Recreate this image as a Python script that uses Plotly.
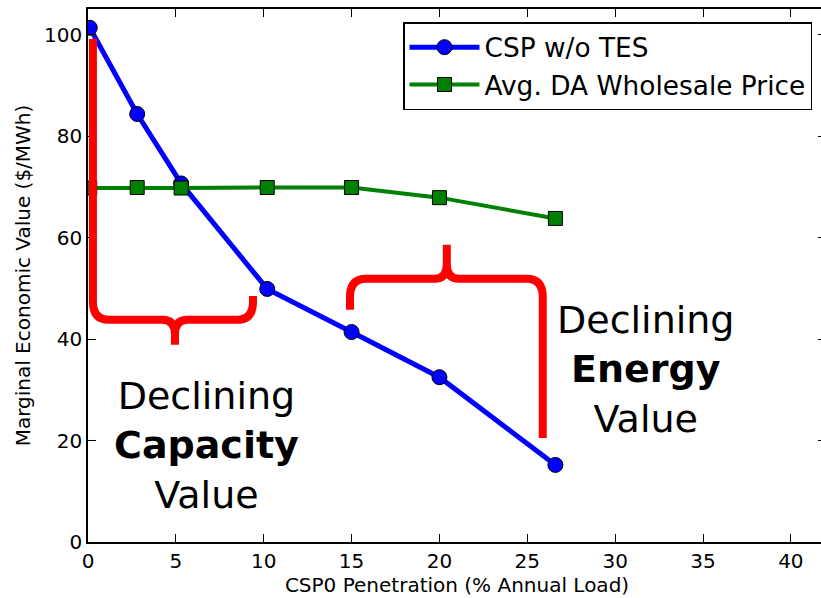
import plotly.graph_objects as go

# ---- data ----
penetration = [0.1, 2.8, 5.3, 10.2, 15.0, 20.0, 26.6]
csp_value = [101.4, 84.4, 70.7, 49.9, 41.4, 32.5, 15.2]
da_price = [69.8, 69.9, 69.8, 69.9, 69.9, 67.9, 63.8]
x_ticks = [0, 5, 10, 15, 20, 25, 30, 35, 40]
y_ticks = [0, 20, 40, 60, 80, 100]

FONT = "DejaVu Sans"

fig = go.Figure()
fig.add_trace(go.Scatter(
    x=penetration, y=csp_value, mode="lines+markers", name="CSP w/o TES",
    line=dict(color="#0000ff", width=5),
    marker=dict(symbol="circle", size=15, color="#0000ff", line=dict(color="black", width=1)),
))
fig.add_trace(go.Scatter(
    x=penetration, y=da_price, mode="lines+markers", name="Avg. DA Wholesale Price",
    line=dict(color="#008000", width=4),
    marker=dict(symbol="square", size=14, color="#008000", line=dict(color="black", width=1)),
))


def brace(x0, x1, yh, yl, yr, xt, yt, rx, ry, tr):
    s = 1 if yl > yh else -1
    st = 1 if yt > yh else -1
    p = f"M {x0},{yl} L {x0},{yh + s*ry} Q {x0},{yh} {x0 + rx},{yh} "
    p += f"L {xt - tr},{yh} Q {xt},{yh} {xt},{yh + st*ry*0.8} L {xt},{yt} "
    p += f"L {xt},{yh + st*ry*0.8} Q {xt},{yh} {xt + tr},{yh} "
    p += f"L {x1 - rx},{yh} Q {x1},{yh} {x1},{yh + s*ry} L {x1},{yr}"
    return p


shapes = [
    dict(type="path", xref="x", yref="y",
         path=brace(0.28, 9.39, 43.8, 99.2, 48.5, 4.95, 38.9, 0.9, 3.6, 0.7),
         line=dict(color="#ff0000", width=8)),
    dict(type="path", xref="x", yref="y",
         path=brace(14.91, 25.88, 51.9, 45.8, 20.5, 20.42, 58.6, 0.9, 3.6, 0.7),
         line=dict(color="#ff0000", width=8)),
]

annotations = [
    dict(x=6.77, y=19.0, xref="x", yref="y", showarrow=False,
         text="Declining<br><b>Capacity</b><br>Value",
         font=dict(family=FONT, size=38, color="black"), align="center"),
    dict(x=31.76, y=34.0, xref="x", yref="y", showarrow=False,
         text="Declining<br><b>Energy</b><br>Value",
         font=dict(family=FONT, size=38, color="black"), align="center"),
]

axis_common = dict(
    showgrid=False, zeroline=False, showline=True, linecolor="black", linewidth=1.5,
    mirror="allticks", ticks="inside", ticklen=8, tickwidth=1, tickcolor="black",
    tickfont=dict(family=FONT, size=20, color="black"), automargin=False,
)

fig.update_layout(
    width=830, height=598,
    margin=dict(l=88, r=4, t=9, b=56, autoexpand=False),
    paper_bgcolor="white", plot_bgcolor="white",
    font=dict(family=FONT, color="black"),
    showlegend=True,
    legend=dict(x=(403 - 88) / 738, y=0.9756, xanchor="left", yanchor="top",
                bordercolor="black", borderwidth=1.5, bgcolor="white",
                font=dict(family=FONT, size=26.4, color="black"),
                tracegroupgap=0, itemwidth=70),
    xaxis=dict(range=[0, 42], tickvals=x_ticks,
               title=dict(text="CSP0 Penetration (% Annual Load)", font=dict(family=FONT, size=20), standoff=4),
               **axis_common),
    yaxis=dict(range=[0, 105.1], tickvals=y_ticks,
               title=dict(text="Marginal Economic Value ($/MWh)", font=dict(family=FONT, size=20), standoff=8),
               **axis_common),
    shapes=shapes,
    annotations=annotations,
)

fig.write_html("out.html", config={"displayModeBar": False},
               post_script="document.body.style.margin='0';document.body.style.overflow='hidden';")
